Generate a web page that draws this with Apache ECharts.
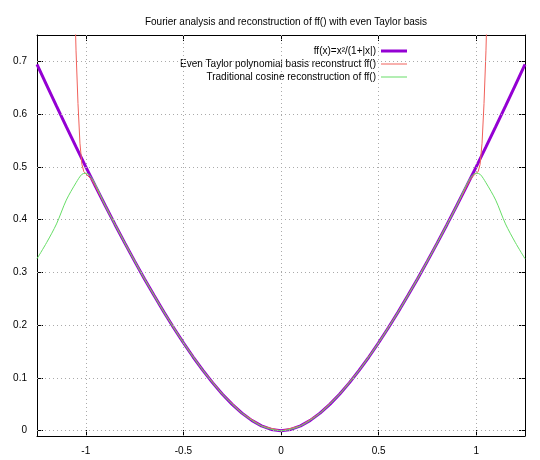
<!DOCTYPE html>
<html><head><meta charset="utf-8">
<script src="https://cdn.jsdelivr.net/npm/echarts@6/dist/echarts.min.js"></script>
<style>html,body{margin:0;padding:0;background:#fff}#c{width:540px;height:460px}</style>
</head><body><div id="c"></div>
<script>
// right half (x >= 0); the plot is symmetric, left half is mirrored
const fX = [0,0.05,0.1,0.15,0.2,0.25,0.3,0.35,0.4,0.45,0.5,0.55,0.6,0.65,0.7,0.75,0.8,0.85,0.9,0.95,1.0,1.05,1.1,1.15,1.2,1.25];
const fY = [0,0.0024,0.0091,0.0196,0.0333,0.05,0.0692,0.0907,0.1143,0.1397,0.1667,0.1952,0.225,0.2561,0.2882,0.3214,0.3556,0.3905,0.4263,0.4628,0.5,0.5378,0.5762,0.6151,0.6545,0.6944];
const taylorX = [0,0.1,0.2,0.3,0.4,0.5,0.6,0.7,0.8,0.9,0.95,0.97,0.99,1.0,1.01,1.02,1.03,1.04,1.05,1.06];
const taylorY = [0,0.0091,0.0333,0.0692,0.1143,0.1667,0.225,0.2882,0.3556,0.4263,0.4625,0.476,0.485,0.487,0.491,0.505,0.545,0.62,0.72,0.86];
const cosX = [0,0.1,0.2,0.3,0.4,0.5,0.6,0.7,0.8,0.9,0.95,0.98,1.0,1.02,1.05,1.1,1.15,1.2,1.25];
const cosY = [0,0.0091,0.0333,0.0692,0.1143,0.1667,0.225,0.2882,0.3556,0.4262,0.466,0.484,0.488,0.486,0.47,0.437,0.392,0.357,0.326];
const xTicks = [-1,-0.5,0,0.5,1];
const yTicks = [0,0.1,0.2,0.3,0.4,0.5,0.6,0.7];

function both(xs, ys) {
  let out = [];
  for (let i = xs.length - 1; i > 0; i--) out.push([-xs[i], ys[i]]);
  for (let i = 0; i < xs.length; i++) out.push([xs[i], ys[i]]);
  return out;
}

const font = 'Liberation Sans, Arial, sans-serif';
const tick = {inside: true, length: 6, lineStyle: {color: '#000'}};

let chart = echarts.init(document.getElementById('c'));
chart.setOption({
  animation: false,
  title: {
    text: 'Fourier analysis and reconstruction of ff() with even Taylor basis',
    left: 281, top: 12, textAlign: 'center',
    textStyle: {fontFamily: font, fontSize: 10, fontWeight: 'normal', color: '#000'}
  },
  legend: {
    orient: 'vertical', right: 128, top: 41, align: 'right',
    itemWidth: 26, itemHeight: 3, itemGap: 3,
    textStyle: {fontFamily: font, fontSize: 10, color: '#000'},
    data: [
      {name: 'ff(x)=x²/(1+|x|)', icon: 'rect', itemStyle: {height: 3}},
      {name: 'Even Taylor polynomial basis reconstruct ff()', icon: 'path://M0,0H26V1H0Z'},
      {name: 'Traditional cosine reconstruction of ff()', icon: 'path://M0,0H26V1H0Z'}
    ]
  },
  grid: {left: 37, right: 15, top: 35, bottom: 24},
  xAxis: [
    {type: 'value', min: -1.25, max: 1.25, position: 'bottom',
      axisLine: {show: true, onZero: false, lineStyle: {color: '#000'}},
      axisLabel: {fontFamily: font, fontSize: 10, color: '#000', margin: 10, customValues: xTicks},
      axisTick: Object.assign({customValues: xTicks}, tick),
      splitLine: {show: false}},
    {type: 'value', min: -1.25, max: 1.25, position: 'top',
      axisLine: {show: true, onZero: false, lineStyle: {color: '#000'}},
      axisLabel: {show: false},
      axisTick: Object.assign({customValues: xTicks}, tick),
      splitLine: {show: false}}
  ],
  yAxis: [
    {type: 'value', min: -0.01, max: 0.75, position: 'left',
      axisLine: {show: true, onZero: false, lineStyle: {color: '#000'}},
      axisTick: Object.assign({customValues: yTicks}, tick),
      axisLabel: {fontFamily: font, fontSize: 10, color: '#000', margin: 10, customValues: yTicks},
      splitLine: {show: false}},
    {type: 'value', min: -0.01, max: 0.75, position: 'right',
      axisLine: {show: true, onZero: false, lineStyle: {color: '#000'}},
      axisTick: Object.assign({customValues: yTicks}, tick),
      axisLabel: {show: false}, splitLine: {show: false}}
  ],
  series: [
    // dotted grid lines
    {type: 'line', data: [], silent: true, markLine: {
      symbol: 'none', silent: true, label: {show: false},
      lineStyle: {color: '#aaaaaa', type: [1, 3], width: 1},
      data: xTicks.map(v => ({xAxis: v})).concat(yTicks.map(v => ({yAxis: v})))
    }},
    {name: 'ff(x)=x²/(1+|x|)', type: 'line', data: both(fX, fY), showSymbol: false,
      color: '#9400d3', lineStyle: {width: 3}, z: 3},
    {name: 'Even Taylor polynomial basis reconstruct ff()', type: 'line', data: both(taylorX, taylorY),
      showSymbol: false, color: '#f0605a', lineStyle: {width: 1}, z: 4},
    {name: 'Traditional cosine reconstruction of ff()', type: 'line', data: both(cosX, cosY),
      showSymbol: false, color: '#66dd66', lineStyle: {width: 1}, z: 4, smooth: 0.3}
  ]
});
</script></body></html>
